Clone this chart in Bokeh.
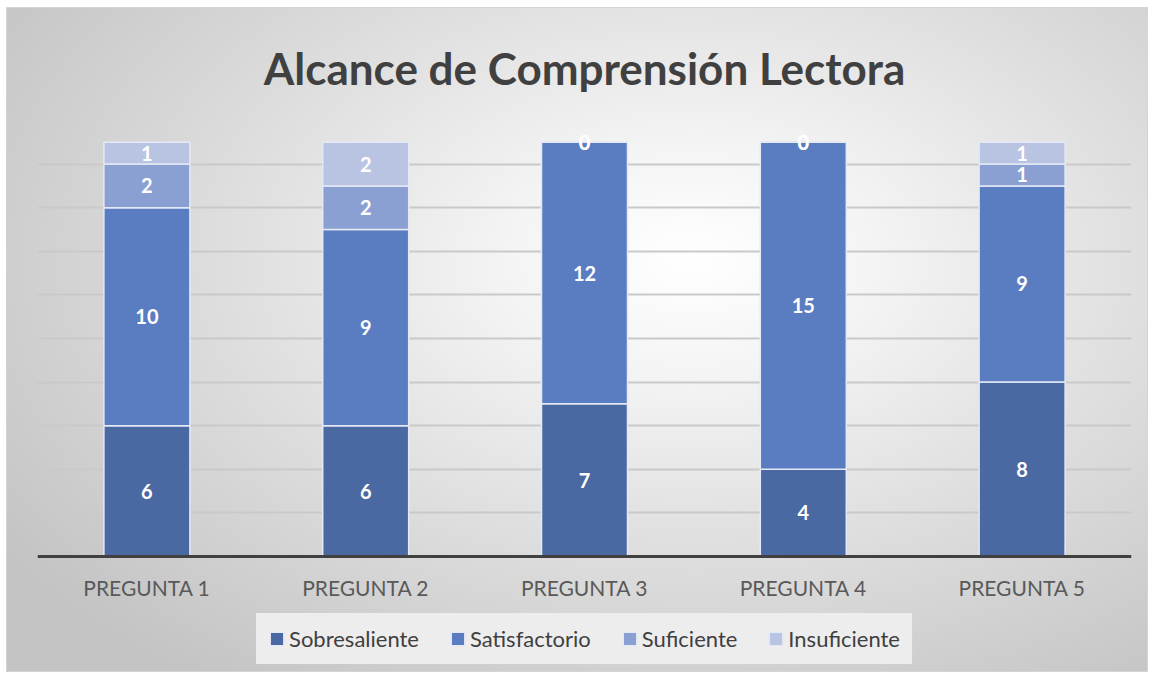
from bokeh.plotting import figure
from bokeh.models import (ColumnDataSource, LabelSet, Legend, LegendItem,
                          FactorRange, Range1d, SingleIntervalTicker)
from bokeh.core.properties import value
from bokeh.embed import file_html
from bokeh.resources import INLINE

preguntas = ["PREGUNTA 1", "PREGUNTA 2", "PREGUNTA 3", "PREGUNTA 4", "PREGUNTA 5"]
niveles = ["Sobresaliente", "Satisfactorio", "Suficiente", "Insuficiente"]
sobresaliente = [6, 6, 7, 4, 8]
satisfactorio = [10, 9, 12, 15, 9]
suficiente = [2, 2, 0, 0, 1]
insuficiente = [1, 2, 0, 0, 1]
colores = ["#4a69a3", "#5a7dc2", "#8a9fd2", "#b9c4e3"]

series = [sobresaliente, satisfactorio, suficiente, insuficiente]
data = {"pregunta": preguntas}
for n, s in zip(niveles, series):
    data[n] = s
src = ColumnDataSource(data)

p = figure(x_range=FactorRange(*preguntas), y_range=Range1d(-5.37, 20),
           width=1142, height=665, output_backend="svg", toolbar_location=None,
           min_border_left=30, min_border_right=18, min_border_top=112,
           min_border_bottom=0,
           styles={"background": "radial-gradient(ellipse 72% 78% at 60% 38%, #ffffff 0%, #f4f4f4 22%, #dcdcdc 60%, #c4c4c4 100%)",
                   "border": "1px solid #d4d4d4", "margin-left": "6px", "margin-top": "7px"})
p.border_fill_alpha = 0
p.background_fill_alpha = 0
p.outline_line_color = None

p.title.text = "Alcance de Comprensión Lectora"
p.title.align = "center"
p.title.vertical_align = "top"
p.title.text_font = "Lato"
p.title.text_font_size = "44px"
p.title.text_font_style = "bold"
p.title.text_color = "#404040"
p.title.standoff = 49

renderers = p.vbar_stack(niveles, x="pregunta", width=0.393, color=colores,
                         source=src, line_color="#e4e9f5", line_width=1.5)

# labels at segment centers
lx, ly, lt = [], [], []
for i, q in enumerate(preguntas):
    base = 0
    for s in series:
        v = s[i]
        lx.append(q)
        ly.append(base + v / 2)
        lt.append(str(v))
        base += v
lsrc = ColumnDataSource({"x": lx, "y": ly, "t": lt})
p.add_layout(LabelSet(x="x", y="y", text="t", source=lsrc, text_align="center",
                      text_baseline="middle", text_color="white",
                      text_font=value("Lato"), text_font_style="bold",
                      text_font_size="20px"))

p.yaxis.visible = False
p.ygrid.ticker = SingleIntervalTicker(interval=2, num_minor_ticks=0)
p.ygrid.bounds = (0, 20)
p.ygrid.grid_line_color = "#c9c9c9"
p.ygrid.grid_line_width = 1.8
p.xgrid.grid_line_color = None

p.xaxis.fixed_location = 0
p.xaxis.axis_line_color = "#404040"
p.xaxis.axis_line_width = 3
p.xaxis.major_tick_line_color = None
p.xaxis.minor_tick_line_color = None
p.xaxis.major_label_standoff = 13
p.xaxis.major_label_text_font = "Lato"
p.xaxis.major_label_text_font_size = "21px"
p.xaxis.major_label_text_color = "#595959"

legend = Legend(items=[LegendItem(label=n, renderers=[r]) for n, r in zip(niveles, renderers)],
                orientation="horizontal", location="bottom_center",
                label_text_font="Lato", label_text_font_size="22px",
                label_text_color="#404040", glyph_width=17, glyph_height=17,
                label_standoff=4, spacing=30, padding=0, margin=9,
                background_fill_color="#ededed", background_fill_alpha=1.0,
                border_line_color="#ededed", border_line_alpha=1.0,
                border_line_width=12)
p.add_layout(legend)

open("out.html", "w").write(file_html(p, INLINE))
